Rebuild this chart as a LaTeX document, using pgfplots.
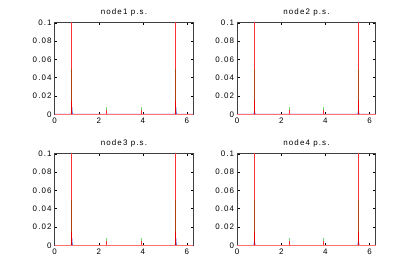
\documentclass[border=0pt]{standalone}
\usepackage{pgfplots}
\pgfplotsset{compat=1.18}
\usepackage{fontspec}
\setmainfont{Liberation Sans}
\newfontfamily\spaced[LetterSpace=14]{Liberation Sans}
\definecolor{mred}{rgb}{1,0.2,0.2}
\definecolor{mbrown}{rgb}{0.7,0.25,0.05}
\definecolor{mgreen}{rgb}{0.45,0.85,0.45}
\definecolor{mblue}{rgb}{0.25,0.35,0.9}
\pgfplotsset{
  ps/.style={
    width=138.6bp, height=91.5bp, scale only axis,
    anchor=south west,
    xmin=0, xmax=6.2832, ymin=0, ymax=0.1,
    xtick={0,2,4,6}, xticklabels={0,2,4,6},
    ytick={0,0.02,0.04,0.06,0.08,0.1},
    yticklabels={0,0.02,0.04,0.06,0.08,0.1},
    tick align=inside, major tick length=2.5bp,
    tick style={black, line width=0.4bp},
    axis line style={black!75, line width=0.9bp},
    tick label style={font=\spaced\fontsize{8}{9}\selectfont},
    title style={font=\spaced\fontsize{8}{9}\selectfont, yshift=-3bp},
    xticklabel style={yshift=-0.5bp},
    yticklabel style={xshift=0.5bp},
    clip=true,
  }
}
\newcommand{\plotblue}[1]{\addplot[mblue, line width=0.6bp, line join=round, mark=none] coordinates {
 (0,0) (0.75,0) (0.77,0.002) (0.785,#1) (0.80,0.002) (0.82,0)
 (5.46,0) (5.48,0.002) (5.498,#1) (5.515,0.002) (5.535,0) (6.2832,0)};}
\newcommand{\plotrest}{%
\addplot[ycomb, mgreen, line width=0.8bp, mark=none] coordinates {
 (2.356,0.008) (3.927,0.008)};
\addplot[ycomb, mred, line width=1bp, mark=none] coordinates {
 (0.785,0.15) (5.498,0.15) (2.356,0.005) (3.927,0.005)};
\addplot[ycomb, mbrown, line width=1bp, mark=none] coordinates {
 (0.785,0.05) (5.498,0.05)};
\addplot[ycomb, red!90!black, line width=1bp, mark=none] coordinates {
 (0.785,0.015) (5.498,0.015)};
\addplot[red!85!black, line width=1.2bp] coordinates {
 (0,0) (6.2832,0)};
\addplot[mred!70, line width=0.7bp] coordinates {
 (0,0.0003) (6.2832,0.0003)};
}
\begin{document}
\begin{tikzpicture}
\path[use as bounding box] (0,0) rectangle (415bp,277bp);
\begin{axis}[ps, at={(54.6bp,162.7bp)}, title={node1 p.s.}]
\plotblue{0.008}
\plotrest
\end{axis}
\begin{axis}[ps, at={(237.18bp,162.7bp)}, title={node2 p.s.}]
\plotblue{0.006}
\plotrest
\end{axis}
\begin{axis}[ps, at={(54.6bp,31.7bp)}, title={node3 p.s.}]
\plotblue{0.008}
\plotrest
\end{axis}
\begin{axis}[ps, at={(237.18bp,31.7bp)}, title={node4 p.s.}]
\plotblue{0.006}
\plotrest
\end{axis}
\end{tikzpicture}
\end{document}
